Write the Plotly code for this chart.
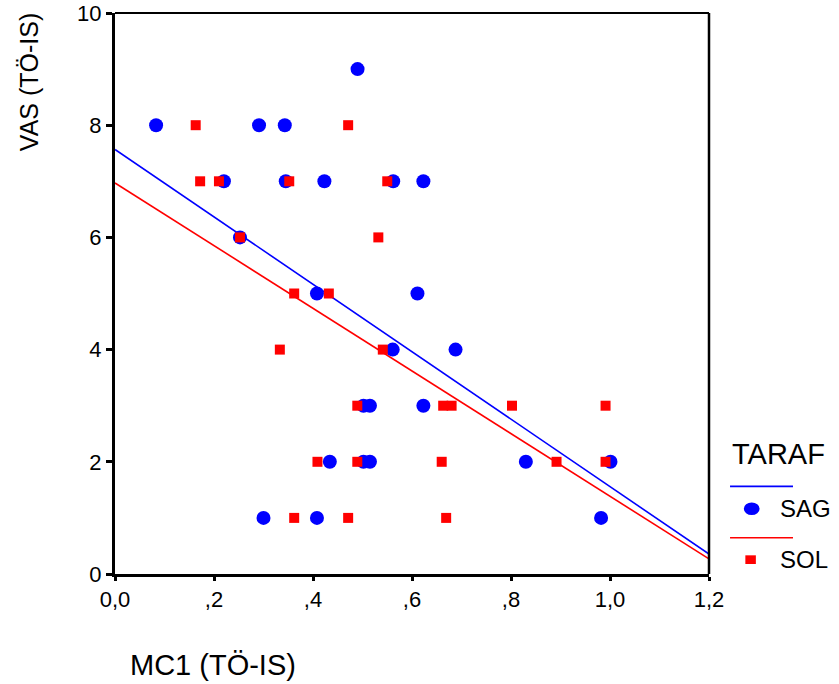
import numpy as np
import plotly.graph_objects as go

# MC1 (TÖ-IS) vs VAS (TÖ-IS), split by side (TARAF)
sag_mc1 = [0.490, 0.083, 0.291, 0.343, 0.220, 0.345, 0.423, 0.562, 0.623,
           0.2525, 0.408, 0.611, 0.561, 0.688, 0.502, 0.515, 0.623, 0.434,
           0.502, 0.515, 0.830, 1.001, 0.300, 0.408, 0.982]
sag_vas = [9, 8, 8, 8, 7, 7, 7, 7, 7,
           6, 5, 5, 4, 4, 3, 3, 3, 2,
           2, 2, 2, 2, 1, 1, 1]

sol_mc1 = [0.163, 0.471, 0.172, 0.210, 0.352, 0.550, 0.2525, 0.532, 0.362,
           0.432, 0.333, 0.541, 0.4895, 0.663, 0.680, 0.802, 0.991, 0.409,
           0.4895, 0.660, 0.892, 0.991, 0.362, 0.471, 0.669]
sol_vas = [8, 8, 7, 7, 7, 7, 6, 6, 5,
           5, 4, 4, 3, 3, 3, 3, 3, 2,
           2, 2, 2, 2, 1, 1, 1]

x_ticks = [0.0, 0.2, 0.4, 0.6, 0.8, 1.0, 1.2]
x_tick_text = ["0,0", ",2", ",4", ",6", ",8", "1,0", "1,2"]
y_ticks = [0, 2, 4, 6, 8, 10]
y_tick_text = ["0", "2", "4", "6", "8", "10"]

BLUE = "#0000ff"
RED = "#ff0000"
FONT = "Liberation Sans, Arial, sans-serif"


def fit_line(x, y):
    slope, intercept = np.polyfit(np.asarray(x), np.asarray(y), 1)
    xs = np.array([x_ticks[0], x_ticks[-1]])
    return xs, intercept + slope * xs


fig = go.Figure()

for xs, ys, col in [(sag_mc1, sag_vas, BLUE), (sol_mc1, sol_vas, RED)]:
    lx, ly = fit_line(xs, ys)
    fig.add_trace(go.Scatter(x=lx, y=ly, mode="lines",
                             line=dict(color=col, width=1.6),
                             showlegend=False, hoverinfo="skip"))

fig.add_trace(go.Scatter(x=sag_mc1, y=sag_vas, mode="markers", name="SAG",
                         marker=dict(symbol="circle", size=14, color=BLUE,
                                     line=dict(width=0)),
                         showlegend=False))
fig.add_trace(go.Scatter(x=sol_mc1, y=sol_vas, mode="markers", name="SOL",
                         marker=dict(symbol="square", size=10, color=RED,
                                     line=dict(width=0)),
                         showlegend=False))

axis_common = dict(showgrid=False, zeroline=False, showline=True,
                   linecolor="black", linewidth=3, ticks="outside",
                   tickcolor="black", tickwidth=3, automargin=False,
                   tickfont=dict(family=FONT, size=22, color="black"))

fig.update_xaxes(range=[0, 1.2], tickvals=x_ticks, ticktext=x_tick_text,
                 ticklen=4, **axis_common)
fig.update_yaxes(range=[0, 10], tickvals=y_ticks, ticktext=y_tick_text,
                 ticklen=6, **axis_common)

shapes = [
    # top and right frame edges
    dict(type="line", xref="paper", yref="paper", x0=0, x1=1, y0=1, y1=1,
         line=dict(color="black", width=2)),
    dict(type="line", xref="paper", yref="paper", x0=1, x1=1, y0=0, y1=1,
         line=dict(color="black", width=2.5)),
    # legend keys
    dict(type="line", xref="paper", yref="paper", x0=1.0354, x1=1.1414,
         y0=0.1562, y1=0.1562, line=dict(color=BLUE, width=1.6)),
    dict(type="circle", xref="paper", yref="paper", x0=1.0586, x1=1.0852,
         y0=0.1052, y1=0.1276, fillcolor=BLUE, line=dict(width=0)),
    dict(type="line", xref="paper", yref="paper", x0=1.0354, x1=1.1414,
         y0=0.0647, y1=0.0647, line=dict(color=RED, width=1.6)),
    dict(type="rect", xref="paper", yref="paper", x0=1.0612, x1=1.0789,
         y0=0.0178, y1=0.0333, fillcolor=RED, line=dict(width=0)),
]

annotations = [
    dict(text="VAS (TÖ-IS)", xref="paper", yref="paper", x=-0.1456, y=0.8758,
         textangle=-90, showarrow=False, xanchor="center", yanchor="middle",
         font=dict(family=FONT, size=25, color="black")),
    dict(text="MC1 (TÖ-IS)", xref="paper", yref="paper", x=0.165, y=-0.1617,
         showarrow=False, xanchor="center", yanchor="middle",
         font=dict(family=FONT, size=29, color="black")),
    dict(text="TARAF", xref="paper", yref="paper", x=1.0354, y=0.2144,
         showarrow=False, xanchor="left", yanchor="middle",
         font=dict(family=FONT, size=29, color="black")),
    dict(text="SAG", xref="paper", yref="paper", x=1.1162, y=0.1164,
         showarrow=False, xanchor="left", yanchor="middle",
         font=dict(family=FONT, size=24, color="black")),
    dict(text="SOL", xref="paper", yref="paper", x=1.1162, y=0.0255,
         showarrow=False, xanchor="left", yanchor="middle",
         font=dict(family=FONT, size=24, color="black")),
]

fig.update_layout(width=839, height=684,
                  margin=dict(l=115, r=130, t=13, b=110),
                  paper_bgcolor="white", plot_bgcolor="white",
                  shapes=shapes, annotations=annotations,
                  showlegend=False)

fig.write_html("out.html")
